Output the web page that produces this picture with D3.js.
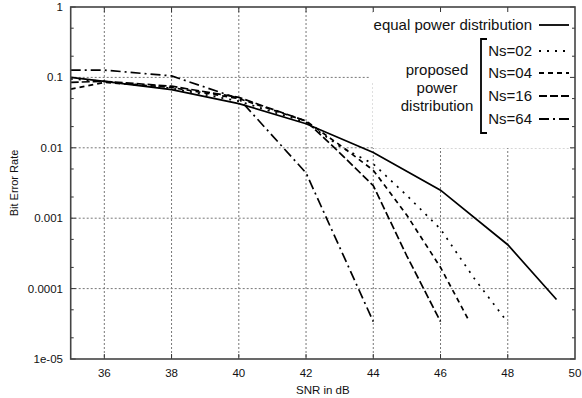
<html>
<meta charset="utf-8">
<script src="https://d3js.org/d3.v7.min.js"></script>
<style>
body { margin: 0; background: #fff; }
text { font-family: "Liberation Sans", Arial, sans-serif; fill: #111; }
</style>
<body>
<script>
// x ticks and y ticks (log scale)
const xTicks = [36, 38, 40, 42, 44, 46, 48, 50];
const yTicks = [1, 0.1, 0.01, 0.001, 0.0001, 0.00001];
const yTickLabels = ["1", "0.1", "0.01", "0.001", "0.0001", "1e-05"];
const yMinor = [5e-1, 2e-1, 5e-2, 2e-2, 5e-3, 2e-3, 5e-4, 2e-4, 5e-5, 2e-5];

// equal power distribution
const snrEqual = [35, 36, 38, 40, 42, 44, 46, 48, 49.45];
const berEqual = [0.1, 0.088, 0.067, 0.0425, 0.022, 0.0086, 0.0025, 0.00042, 0.00007];
// proposed power distribution
const snrNs02 = [35, 36, 38, 40, 42, 43, 44, 45, 46, 47, 48];
const berNs02 = [0.095, 0.088, 0.07, 0.046, 0.023, 0.0105, 0.0059, 0.0021, 0.0007, 0.00014, 0.000033];
const snrNs04 = [35, 36, 38, 40, 42, 43, 44, 45, 46, 46.86];
const berNs04 = [0.068, 0.085, 0.072, 0.05, 0.024, 0.011, 0.0048, 0.0011, 0.0002, 0.000034];
const snrNs16 = [35, 36, 38, 40, 42, 43, 44, 45, 46];
const berNs16 = [0.085, 0.088, 0.075, 0.052, 0.024, 0.0085, 0.0029, 0.00029, 0.000034];
const snrNs64 = [35, 36, 38, 40, 42, 44];
const berNs64 = [0.127, 0.127, 0.105, 0.05, 0.0044, 0.000034];

const seriesNames = ["equal power distribution", "Ns=02", "Ns=04", "Ns=16", "Ns=64"];

const series = [
  { name: seriesNames[0], x: snrEqual, y: berEqual, dash: null },
  { name: seriesNames[1], x: snrNs02, y: berNs02, dash: "2,6" },
  { name: seriesNames[2], x: snrNs04, y: berNs04, dash: "5,4" },
  { name: seriesNames[3], x: snrNs16, y: berNs16, dash: "8,3" },
  { name: seriesNames[4], x: snrNs64, y: berNs64, dash: "10,4,2,4" }
];

const W = 582, H = 398;
const pLeft = 70.7, pRight = 575, pTop = 7, pBottom = 359;

const x = d3.scaleLinear().domain([35, 50]).range([pLeft, pRight]);
const y = d3.scaleLog().domain([1e-5, 1]).range([pBottom, pTop]);

const svg = d3.select('body').append('svg')
  .attr('width', W).attr('height', H);

// grid
const grid = svg.append('g').attr('stroke', '#777').attr('stroke-width', 1)
  .attr('stroke-dasharray', '2,2');
grid.selectAll('.gx').data(xTicks.slice(0, -1)).enter().append('line')
  .attr('x1', d => x(d)).attr('x2', d => x(d))
  .attr('y1', pTop).attr('y2', pBottom);
grid.selectAll('.gy').data(yTicks.slice(1, -1)).enter().append('line')
  .attr('x1', pLeft).attr('x2', pRight)
  .attr('y1', d => y(d)).attr('y2', d => y(d));

// key background hides the grid
svg.append('rect')
  .attr('x', 373).attr('y', pTop + 1)
  .attr('width', pRight - 373 - 1).attr('height', 140)
  .attr('fill', '#fff');
svg.append('rect')
  .attr('x', 370).attr('y', pTop + 6)
  .attr('width', 4).attr('height', 70)
  .attr('fill', '#fff');

// ticks (inward, mirrored)
const ticks = svg.append('g').attr('stroke', '#333').attr('stroke-width', 1);
xTicks.slice(0, -1).forEach(v => {
  ticks.append('line').attr('x1', x(v)).attr('x2', x(v)).attr('y1', pBottom).attr('y2', pBottom - 5);
  ticks.append('line').attr('x1', x(v)).attr('x2', x(v)).attr('y1', pTop).attr('y2', pTop + 5);
});
yTicks.forEach(v => {
  ticks.append('line').attr('x1', pLeft).attr('x2', pLeft + 5).attr('y1', y(v)).attr('y2', y(v));
  ticks.append('line').attr('x1', pRight).attr('x2', pRight - 5).attr('y1', y(v)).attr('y2', y(v));
});
yMinor.forEach(v => {
  ticks.append('line').attr('x1', pLeft).attr('x2', pLeft + 3).attr('y1', y(v)).attr('y2', y(v));
  ticks.append('line').attr('x1', pRight).attr('x2', pRight - 3).attr('y1', y(v)).attr('y2', y(v));
});

// tick labels
svg.selectAll('.xl').data(xTicks).enter().append('text')
  .attr('x', d => x(d)).attr('y', 377)
  .attr('text-anchor', 'middle').style('font-size', '11.5px')
  .text(d => d);
svg.selectAll('.yl').data(yTicks).enter().append('text')
  .attr('x', 63).attr('y', d => y(d)).attr('dy', '0.35em')
  .attr('text-anchor', 'end').style('font-size', '11.5px')
  .text((d, i) => yTickLabels[i]);

// axis titles
svg.append('text').attr('x', (pLeft + pRight) / 2).attr('y', 394)
  .attr('text-anchor', 'middle').style('font-size', '11.5px').text('SNR in dB');
svg.append('text').attr('transform', `translate(18, ${(pTop + pBottom) / 2}) rotate(-90)`)
  .attr('text-anchor', 'middle').style('font-size', '11px').text('Bit Error Rate');

// curves
svg.append('clipPath').attr('id', 'plot').append('rect')
  .attr('x', pLeft).attr('y', pTop).attr('width', pRight - pLeft).attr('height', pBottom - pTop);

const line = d3.line().x(d => x(d[0])).y(d => y(d[1]));
svg.append('g').attr('clip-path', 'url(#plot)')
  .selectAll('path').data(series).enter().append('path')
  .attr('d', s => line(d3.zip(s.x, s.y)))
  .attr('fill', 'none').attr('stroke', '#000').attr('stroke-width', 1.7)
  .attr('stroke-dasharray', s => s.dash);

// frame
svg.append('rect').attr('x', pLeft).attr('y', pTop)
  .attr('width', pRight - pLeft).attr('height', pBottom - pTop)
  .attr('fill', 'none').attr('stroke', '#444').attr('stroke-width', 1.6);

// key
const key = svg.append('g');
const rowY = [25, 51, 73, 96, 119];
series.forEach((s, i) => {
  key.append('text').attr('x', 532).attr('y', rowY[i]).attr('dy', '0.35em')
    .attr('text-anchor', 'end').style('font-size', '15px').text(s.name);
  key.append('line').attr('x1', 539).attr('x2', 569)
    .attr('y1', rowY[i]).attr('y2', rowY[i])
    .attr('stroke', '#000').attr('stroke-width', 1.8)
    .attr('stroke-dasharray', s.dash);
});
const groupLabel = ["proposed", "power", "distribution"];
groupLabel.forEach((t, i) => {
  key.append('text').attr('x', 437).attr('y', 70 + i * 18).attr('dy', '0.35em')
    .attr('text-anchor', 'middle').style('font-size', '15px').text(t);
});
key.append('path')
  .attr('d', 'M487,39 H481 V133 H487')
  .attr('fill', 'none').attr('stroke', '#000').attr('stroke-width', 1.8);
</script>
</body>
</html>
